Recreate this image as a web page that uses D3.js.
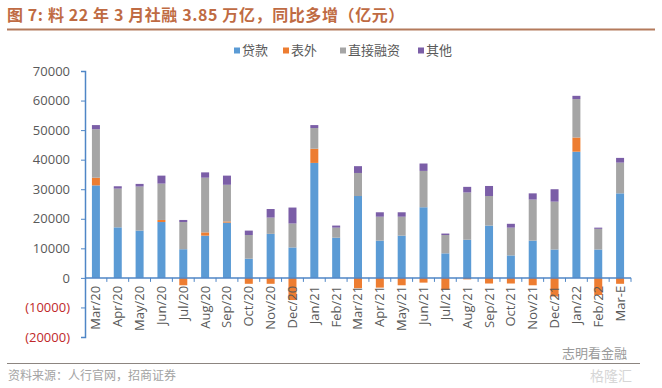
<!DOCTYPE html>
<html>
<head>
<meta charset="utf-8">
<script src="https://cdn.jsdelivr.net/npm/d3@7"></script>
<style>
  body { margin: 0; background: #fff; }
  svg { display: block; }
</style>
</head>
<body>
<svg id="chart" width="662" height="388"></svg>
<script>
// data (亿元)
var categories = ['Mar/20', 'Apr/20', 'May/20', 'Jun/20', 'Jul/20', 'Aug/20', 'Sep/20', 'Oct/20', 'Nov/20', 'Dec/20',
    'Jan/21', 'Feb/21', 'Mar/21', 'Apr/21', 'May/21', 'Jun/21', 'Jul/21', 'Aug/21', 'Sep/21', 'Oct/21', 'Nov/21', 'Dec/21',
    'Jan/22', 'Feb/22', 'Mar-E'];
var loans = [31300, 17100, 16000, 18900, 9700, 14300, 18700, 6500, 14900, 10300, 38900, 13600, 27700, 12600, 14300, 23900,
    8300, 12900, 17700, 7600, 12600, 9600, 42700, 9600, 28600];
var offBalance = [2600, 0, 0, 700, -2500, 1100, 400, -2000, -2000, -7500, 4800, 0, -3500, -3300, -2500, -1600,
    -4000, -500, -1900, -1900, -2500, -6300, 4800, -5800, -2000];
var directFinancing = [16400, 13100, 14900, 12300, 9200, 18500, 12400, 8000, 5500, 8100, 7000, 3400, 7800, 8100, 6400, 12300,
    6200, 16000, 10000, 9400, 13900, 16200, 13000, 7000, 10400];
var others = [1400, 800, 900, 2700, 700, 1800, 3100, 1500, 2900, 5400, 1000, 700, 2300, 1500, 1500, 2500,
    500, 1900, 3400, 1300, 2100, 4200, 1100, 400, 1600];

var seriesNames = ['贷款', '表外', '直接融资', '其他'];
var seriesColors = ['#5B9BD5', '#ED7D31', '#A5A5A5', '#7B5EA7'];
var yTicks = [-20000, -10000, 0, 10000, 20000, 30000, 40000, 50000, 60000, 70000];

var svg = d3.select('#chart');
var tickFont = '"Open Sans", sans-serif';
var cjkFont = '"Noto Sans CJK SC", sans-serif';

// title + rule
svg.append('text')
    .attr('x', 7).attr('y', 21)
    .attr('font-family', cjkFont).attr('font-size', 16).attr('font-weight', 'bold')
    .attr('letter-spacing', 0.6)
    .attr('fill', '#BF6B43')
    .text('图 7: 料 22 年 3 月社融 3.85 万亿，同比多增（亿元）');
svg.append('line')
    .attr('x1', 7).attr('x2', 655).attr('y1', 29.5).attr('y2', 29.5)
    .attr('stroke', '#B47A5C').attr('stroke-width', 2);

var x = d3.scaleBand().domain(categories).range([85, 631]);
var y = d3.scaleLinear().domain([-20000, 70000]).range([337, 71]);
var barWidth = 8;

var table = categories.map(function (c, i) {
    return {cat: c, s0: loans[i], s1: offBalance[i], s2: directFinancing[i], s3: others[i]};
});
var stack = d3.stack().keys(['s0', 's1', 's2', 's3']).offset(d3.stackOffsetDiverging);
var layers = stack(table);

svg.append('g').selectAll('g')
    .data(layers)
    .join('g')
    .attr('fill', function (d, i) { return seriesColors[i]; })
    .selectAll('rect')
    .data(function (d) { return d; })
    .join('rect')
    .attr('x', function (d) { return x(d.data.cat) + x.bandwidth() / 2 - barWidth / 2; })
    .attr('y', function (d) { return y(Math.max(d[0], d[1])); })
    .attr('width', barWidth)
    .attr('height', function (d) { return Math.abs(y(d[0]) - y(d[1])); });

// y axis
var axisColor = '#4F86C6';
var yAxis = svg.append('g').attr('transform', 'translate(85,0)')
    .call(d3.axisLeft(y).tickValues(yTicks).tickSize(4).tickPadding(11)
        .tickFormat(function (v) { return v < 0 ? '(' + Math.abs(v) + ')' : String(v); }));
yAxis.select('.domain').attr('stroke', axisColor).attr('stroke-width', 1.5);
yAxis.selectAll('.tick line').attr('stroke', axisColor);
yAxis.selectAll('.tick text')
    .attr('font-family', tickFont).attr('font-size', 13)
    .attr('fill', function (v) { return v < 0 ? '#C0282A' : '#595959'; });

// x axis at zero
var xAxisG = svg.append('g').attr('transform', 'translate(0,' + y(0) + ')');
xAxisG.append('line')
    .attr('x1', 85).attr('x2', 631)
    .attr('stroke', axisColor).attr('stroke-width', 1.5);
xAxisG.selectAll('line.tk')
    .data(categories)
    .join('line')
    .attr('class', 'tk')
    .attr('x1', function (d) { return x(d) + x.bandwidth(); })
    .attr('x2', function (d) { return x(d) + x.bandwidth(); })
    .attr('y1', 0).attr('y2', 4)
    .attr('stroke', axisColor);
xAxisG.selectAll('text')
    .data(categories)
    .join('text')
    .attr('transform', function (d) {
        return 'translate(' + (x(d) + x.bandwidth() / 2 + 1) + ',8) rotate(-90)';
    })
    .attr('text-anchor', 'end')
    .attr('dominant-baseline', 'middle')
    .attr('font-family', tickFont).attr('font-size', 13)
    .attr('fill', '#595959')
    .text(function (d) { return d; });

// legend
var legendX = [234, 283, 340, 418];
var legend = svg.append('g');
seriesNames.forEach(function (name, i) {
    legend.append('rect')
        .attr('x', legendX[i]).attr('y', 47.5)
        .attr('width', 6).attr('height', 6)
        .attr('fill', seriesColors[i]);
    legend.append('text')
        .attr('x', legendX[i] + 8).attr('y', 55)
        .attr('font-family', cjkFont).attr('font-size', 13)
        .attr('fill', '#595959')
        .text(name);
});

// footer
svg.append('line')
    .attr('x1', 7).attr('x2', 640).attr('y1', 363.5).attr('y2', 363.5)
    .attr('stroke', '#8C8580').attr('stroke-width', 1);
svg.append('text')
    .attr('x', 8).attr('y', 380)
    .attr('font-family', cjkFont).attr('font-size', 12)
    .attr('fill', '#A3A3A3')
    .text('资料来源：人行官网，招商证券');
svg.append('text')
    .attr('x', 562).attr('y', 358)
    .attr('font-family', cjkFont).attr('font-size', 13)
    .attr('fill', '#9A9A9A')
    .text('志明看金融');
svg.append('text')
    .attr('x', 590).attr('y', 381)
    .attr('font-family', cjkFont).attr('font-size', 14)
    .attr('fill', '#D6D6D6')
    .text('格隆汇');
</script>
</body>
</html>
